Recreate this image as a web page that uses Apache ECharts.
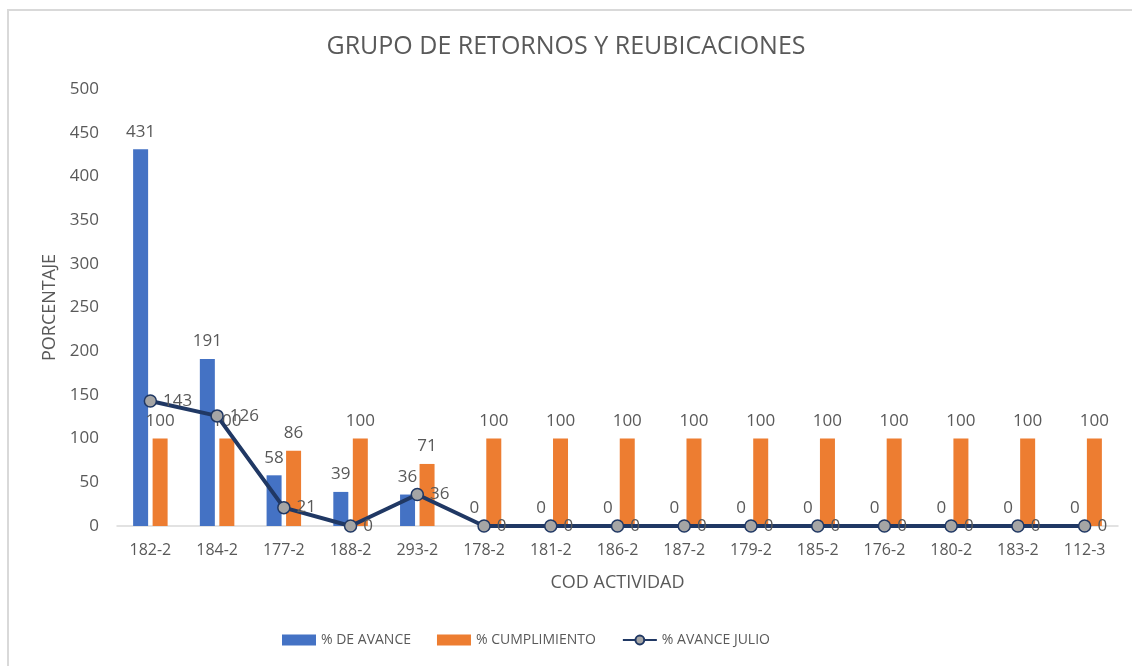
<!DOCTYPE html>
<html>
<head>
<meta charset="utf-8">
<script src="https://cdn.jsdelivr.net/npm/echarts@6/dist/echarts.min.js"></script>
<style>
  html, body { margin: 0; padding: 0; background: #fff; }
  #frame { position: absolute; left: 7px; top: 9px; width: 1125px; height: 657px;
           border-left: 2px solid #d9d9d9; border-top: 2px solid #d9d9d9; }
  #chart { position: absolute; left: 0; top: 0; width: 1132px; height: 666px; }
</style>
</head>
<body>
<div id="frame"></div>
<div id="chart"></div>
<script>
const categories = ["182-2", "184-2", "177-2", "188-2", "293-2", "178-2", "181-2", "186-2", "187-2", "179-2", "185-2", "176-2", "180-2", "183-2", "112-3"];
const avance = [431, 191, 58, 39, 36, 0, 0, 0, 0, 0, 0, 0, 0, 0, 0];
const cumplimiento = [100, 100, 86, 100, 71, 100, 100, 100, 100, 100, 100, 100, 100, 100, 100];
const avanceJulio = [143, 126, 21, 0, 36, 0, 0, 0, 0, 0, 0, 0, 0, 0, 0];

const FONT = "Open Sans";
const TEXT = "#595959";

const chart = echarts.init(document.getElementById("chart"), null, { renderer: "canvas" });
chart.setOption({
  backgroundColor: "transparent",
  animation: false,
  textStyle: { fontFamily: FONT, color: TEXT },
  title: {
    text: "GRUPO DE RETORNOS Y REUBICACIONES",
    left: "center", top: 29,
    textStyle: { fontFamily: FONT, fontSize: 25, fontWeight: "normal", color: TEXT },
  },
  legend: {
    bottom: 14, left: 277, itemGap: 26, itemWidth: 34, itemHeight: 11,
    textStyle: { fontFamily: FONT, fontSize: 14, color: TEXT },
    data: [
      { name: "% DE AVANCE", icon: "rect" },
      { name: "% CUMPLIMIENTO", icon: "rect" },
      { name: "% AVANCE JULIO" },
    ],
  },
  grid: { left: 117, right: 14, top: 89, bottom: 140, containLabel: false },
  xAxis: {
    type: "category",
    data: categories,
    name: "COD ACTIVIDAD",
    nameLocation: "middle",
    nameGap: 48,
    nameTextStyle: { fontFamily: FONT, fontSize: 18, color: TEXT },
    axisTick: { show: false },
    axisLine: { lineStyle: { color: "#d9d9d9", width: 1.5 } },
    axisLabel: { fontFamily: FONT, fontSize: 16, color: TEXT, margin: 16 },
  },
  yAxis: {
    type: "value",
    min: 0, max: 500, interval: 50,
    name: "PORCENTAJE",
    nameLocation: "middle",
    nameGap: 57,
    nameTextStyle: { fontFamily: FONT, fontSize: 18, color: TEXT },
    splitLine: { show: false },
    axisLine: { show: false },
    axisTick: { show: false },
    axisLabel: { fontFamily: FONT, fontSize: 17, color: TEXT, margin: 18 },
  },
  series: [
    {
      name: "% DE AVANCE", type: "bar", data: avance,
      barWidth: 15, barGap: "30%",
      itemStyle: { color: "#4472C4" },
      label: { show: true, position: "top", distance: 9, fontFamily: FONT, fontSize: 17, color: TEXT },
    },
    {
      name: "% CUMPLIMIENTO", type: "bar", data: cumplimiento,
      barWidth: 15,
      itemStyle: { color: "#ED7D31" },
      label: { show: true, position: "top", distance: 9, fontFamily: FONT, fontSize: 17, color: TEXT },
    },
    {
      name: "% AVANCE JULIO", type: "line", data: avanceJulio,
      symbol: "circle", symbolSize: 12,
      lineStyle: { color: "#203864", width: 4 },
      itemStyle: { color: "#A5A5A5", borderColor: "#203864", borderWidth: 1.5 },
      label: { show: true, position: "right", distance: 6, fontFamily: FONT, fontSize: 17, color: TEXT },
      z: 5,
    },
  ],
});
</script>
</body>
</html>
